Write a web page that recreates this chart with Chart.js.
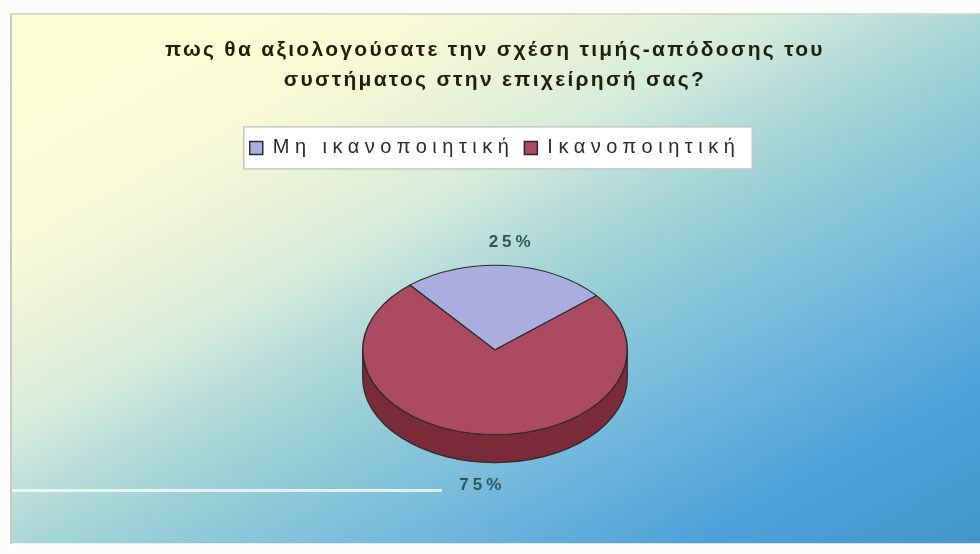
<!DOCTYPE html>
<html>
<head>
<meta charset="utf-8">
<script src="https://cdn.jsdelivr.net/npm/chart.js@4.4.0/dist/chart.umd.min.js"></script>
<style>
html,body{margin:0;padding:0;width:980px;height:554px;overflow:hidden;background:#fdfcfc;}
#panel{position:absolute;left:10px;top:13px;width:970px;height:531px;
  background:linear-gradient(to bottom right,#fdfdd4 0%,#fbfcd6 20%,#e6f0d8 33%,#d4ebdc 40%,#bee0da 45%,#a4d4d6 52%,#8cc8d8 60%,#74b8dc 70%,#4ea2d8 85%,#4496c8 100%);
  border-left:2px solid #c9cbc2;border-top:2px solid #d6d8d0;box-sizing:border-box;}
.streak{position:absolute;height:3px;background:rgba(255,255,255,0.75);}
#wrap{position:absolute;left:0;top:0;width:980px;height:554px;}
</style>
</head>
<body>
<div id="panel"></div>
<div class="streak" style="left:12px;top:489px;width:430px"></div>
<div class="streak" style="left:12px;top:543px;width:968px;height:2px"></div>
<div id="wrap"><canvas id="c"></canvas></div>
<script>
const titleLines = ['πως θα αξιολογούσατε την σχέση τιμής-απόδοσης του', 'συστήματος στην επιχείρησή σας?'];
const categories = ['Μη ικανοποιητική', 'Ικανοποιητική'];
const values = [25, 75];
const topColors = ['#a9aede', '#ac4a62'];
const sideColors = ['#6a6aa0', '#7a2a38'];

const TILT = 0.64;
const DEPTH = 28;
const LEGEND_EXTRA = 49;

function withSpacing(obj, method, sp) {
  const orig = obj[method];
  obj[method] = function (...a) {
    const c = this.ctx;
    const prev = c.letterSpacing;
    c.letterSpacing = sp;
    const r = orig.apply(this, a);
    c.letterSpacing = prev;
    return r;
  };
}

const pie3d = {
  id: 'pie3d',
  beforeUpdate(chart) {
    if (chart.$patched) return;
    chart.$patched = true;
    const lg = chart.legend;
    const fit = lg.fit;
    lg.fit = function () { fit.call(this); this.height += LEGEND_EXTRA; };
    withSpacing(lg, 'fit', '5.5px');
    withSpacing(lg, 'draw', '5.5px');
    if (chart.titleBlock) withSpacing(chart.titleBlock, 'draw', '2.3px');
  },
  beforeDraw(chart) {
    const lg = chart.legend;
    const hb = lg.legendHitBoxes;
    if (!hb || !hb.length) return;
    let l = Infinity, r = -Infinity, t = Infinity, b = -Infinity;
    hb.forEach(h => { l = Math.min(l, h.left); r = Math.max(r, h.left + h.width); t = Math.min(t, h.top); b = Math.max(b, h.top + h.height); });
    const ctx = chart.ctx;
    ctx.save();
    ctx.fillStyle = '#ffffff';
    ctx.strokeStyle = '#c4c8c4';
    ctx.lineWidth = 1.5;
    ctx.fillRect(l - 6, t - 11, r - l + 18, b - t + 22);
    ctx.strokeRect(l - 6, t - 11, r - l + 18, b - t + 22);
    ctx.restore();
  },
  beforeDatasetsDraw(chart) {
    const ctx = chart.ctx;
    const meta = chart.getDatasetMeta(0);
    const first = meta.data[0];
    const cx = first.x, cy = first.y, r = first.outerRadius;
    ctx.save();
    meta.data.forEach((arc, i) => {
      [-2 * Math.PI, 0, 2 * Math.PI].forEach(off => {
        const s = Math.max(arc.startAngle, off);
        const e = Math.min(arc.endAngle, off + Math.PI);
        if (e <= s) return;
        ctx.beginPath();
        ctx.ellipse(cx, cy, r, r * TILT, 0, s, e, false);
        ctx.ellipse(cx, cy + DEPTH, r, r * TILT, 0, e, s, true);
        ctx.closePath();
        ctx.fillStyle = sideColors[i];
        ctx.fill();
        ctx.strokeStyle = '#2e2a2a';
        ctx.lineWidth = 1.2;
        ctx.stroke();
      });
    });
    ctx.translate(cx, cy);
    ctx.scale(1, TILT);
    ctx.translate(-cx, -cy);
  },
  afterDatasetsDraw(chart) {
    const ctx = chart.ctx;
    ctx.restore();
    const meta = chart.getDatasetMeta(0);
    const total = values.reduce((a, b) => a + b, 0);
    ctx.save();
    ctx.font = 'bold 17px "Liberation Sans", Arial, sans-serif';
    ctx.letterSpacing = '4px';
    ctx.fillStyle = '#2d5656';
    ctx.textAlign = 'center';
    ctx.textBaseline = 'middle';
    meta.data.forEach((arc, i) => {
      const mid = (arc.startAngle + arc.endAngle) / 2;
      const R = arc.outerRadius + 36;
      const x = arc.x + R * Math.cos(mid);
      let y = arc.y + R * TILT * Math.sin(mid);
      if (Math.sin(mid) > 0) y += DEPTH;
      ctx.fillText(Math.round(values[i] / total * 100) + '%', x + 2, y);
    });
    ctx.restore();
  }
};

new Chart(document.getElementById('c'), {
  type: 'pie',
  data: {
    labels: categories,
    datasets: [{
      data: values,
      backgroundColor: topColors,
      borderColor: '#2e2a2a',
      borderWidth: 1.5,
      clip: false
    }]
  },
  options: {
    responsive: true,
    maintainAspectRatio: false,
    animation: false,
    events: [],
    rotation: -40,
    layout: { padding: { left: 10, right: 0, top: 0, bottom: 71 } },
    plugins: {
      title: {
        display: true,
        text: titleLines,
        color: '#1f1f0c',
        font: { family: '"Liberation Sans", Arial, sans-serif', size: 21, weight: 'bold', lineHeight: 1.45 },
        padding: { top: 35, bottom: 32 }
      },
      legend: {
        display: true,
        position: 'top',
        labels: {
          color: '#2a2a2a',
          boxWidth: 13,
          boxHeight: 13,
          padding: 10,
          font: { family: '"Liberation Sans", Arial, sans-serif', size: 20 }
        }
      },
      tooltip: { enabled: false }
    }
  },
  plugins: [pie3d]
});
</script>
</body>
</html>
